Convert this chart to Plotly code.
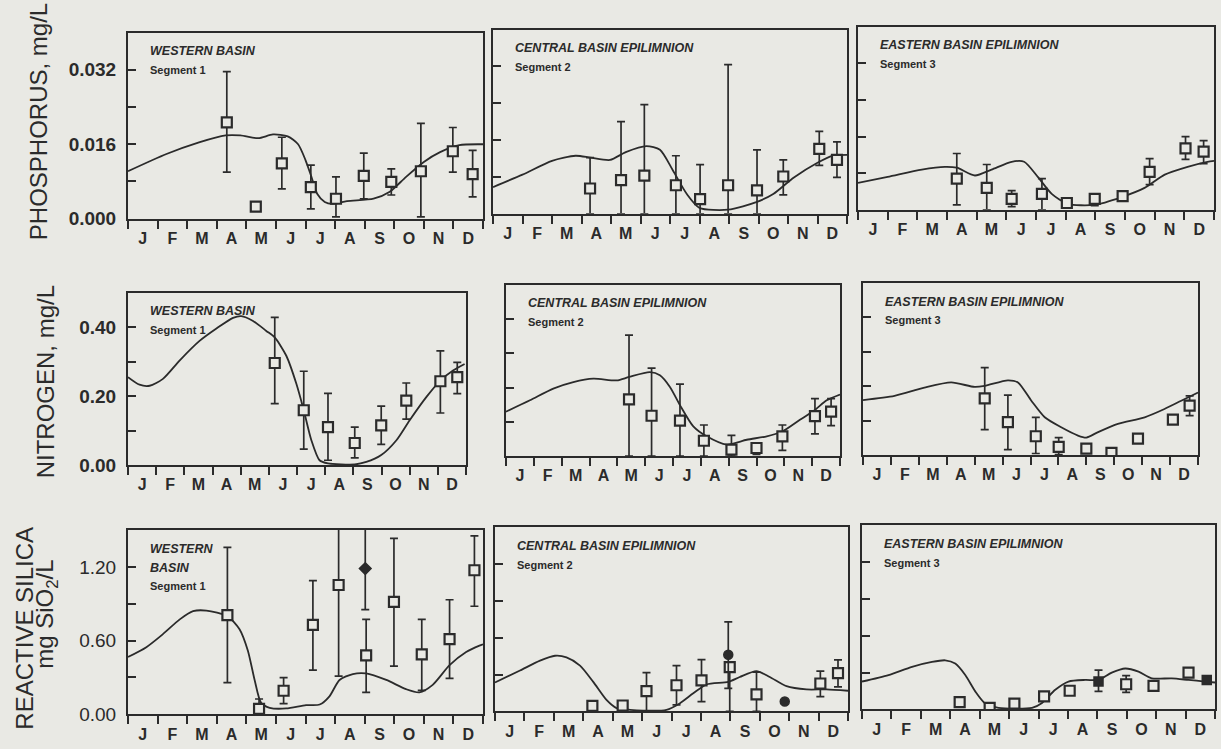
import plotly.graph_objects as go

W, H = 1221, 749
MONTHS = ["J", "F", "M", "A", "M", "J", "J", "A", "S", "O", "N", "D"]
MONTH_CENTERS = [i + 0.5 for i in range(12)]

# ---------------- PHOSPHORUS ----------------
# Western basin, segment 1
p_w_line_x = [0, 1.3, 2.4, 3.3, 3.8, 4.4, 4.9, 5.4, 5.75, 6.0, 6.2, 6.4, 6.65, 6.9, 7.4, 8.3, 8.85, 9.4, 10.0, 10.55, 11.2, 11.9, 12]
p_w_line_y = [0.0102, 0.0139, 0.0164, 0.0179, 0.0179, 0.0173, 0.0181, 0.0177, 0.0160, 0.0126, 0.0090, 0.0053, 0.0036, 0.0032, 0.0038, 0.0043, 0.0058, 0.0090, 0.0122, 0.0143, 0.0158, 0.0160, 0.0160]
p_w_obs_x = [3.34, 4.32, 5.2, 6.18, 7.03, 7.97, 8.9, 9.9, 10.98, 11.65]
p_w_obs_y = [0.0207, 0.0026, 0.0119, 0.0068, 0.0043, 0.0092, 0.0079, 0.0102, 0.0145, 0.0096]
p_w_obs_hi = [0.0316, 0.0026, 0.0175, 0.0115, 0.0090, 0.0141, 0.0107, 0.0205, 0.0196, 0.0147]
p_w_obs_lo = [0.0100, 0.0026, 0.0064, 0.0021, 0.0004, 0.0043, 0.0051, 0.0004, 0.0100, 0.0047]

# Central basin epilimnion, segment 2
p_c_line_x = [0, 1.0, 2.0, 2.8, 3.3, 3.97, 4.5, 5.2, 5.66, 6.1, 6.57, 7.0, 7.97, 8.95, 9.5, 10.2, 11.0, 11.5, 12]
p_c_line_y = [0.0058, 0.0085, 0.0115, 0.0126, 0.0122, 0.0117, 0.0134, 0.0147, 0.0139, 0.0094, 0.0043, 0.0013, 0.0009, 0.0026, 0.0043, 0.0079, 0.0111, 0.0126, 0.0128]
p_c_obs_x = [3.29, 4.34, 5.13, 6.2, 7.02, 7.97, 8.95, 9.84, 11.06, 11.66]
p_c_obs_y = [0.0055, 0.0073, 0.0083, 0.0062, 0.0032, 0.0062, 0.0051, 0.0081, 0.0141, 0.0117]
p_c_obs_hi = [0.0122, 0.0200, 0.0237, 0.0126, 0.0107, 0.0324, 0.0139, 0.0117, 0.0179, 0.0156]
p_c_obs_lo = [0.0, 0.0, 0.0, 0.0, 0.0, 0.0, 0.0, 0.0041, 0.0105, 0.0079]

# Eastern basin epilimnion, segment 3
p_e_line_x = [0, 1.0, 2.15, 2.93, 3.33, 3.94, 4.5, 5.18, 5.6, 6.06, 6.53, 7.07, 7.98, 8.89, 9.66, 10.34, 11.11, 11.78, 12]
p_e_line_y = [0.0059, 0.0072, 0.0088, 0.0094, 0.0092, 0.0075, 0.0088, 0.0105, 0.0105, 0.0072, 0.0035, 0.0013, 0.0011, 0.0028, 0.0048, 0.0077, 0.0094, 0.0105, 0.0107]
p_e_obs_x = [3.33, 4.34, 5.18, 6.2, 7.04, 7.98, 8.92, 9.83, 11.04, 11.65]
p_e_obs_y = [0.0068, 0.0048, 0.0024, 0.0035, 0.0015, 0.0024, 0.0030, 0.0083, 0.0134, 0.0127]
p_e_obs_hi = [0.0123, 0.0099, 0.0042, 0.0068, 0.0015, 0.0035, 0.0030, 0.0112, 0.0160, 0.0151]
p_e_obs_lo = [0.0011, 0.0, 0.0007, 0.0, 0.0015, 0.0009, 0.0030, 0.0055, 0.0110, 0.0101]

# ---------------- NITROGEN ----------------
n_w_line_x = [0, 0.41, 0.77, 1.24, 1.83, 2.54, 3.14, 3.73, 4.02, 4.44, 4.91, 5.21, 5.62, 5.98, 6.24, 6.51, 6.8, 7.1, 8.05, 8.46, 8.99, 9.53, 10.0, 10.59, 11.09, 11.54, 11.95]
n_w_line_y = [0.255, 0.233, 0.230, 0.250, 0.303, 0.360, 0.396, 0.427, 0.432, 0.418, 0.389, 0.370, 0.317, 0.235, 0.159, 0.072, 0.014, 0.005, 0.002, 0.009, 0.029, 0.072, 0.130, 0.197, 0.245, 0.274, 0.293]
n_w_obs_x = [5.21, 6.24, 7.1, 8.05, 8.99, 9.88, 11.09, 11.69]
n_w_obs_y = [0.296, 0.159, 0.110, 0.064, 0.115, 0.187, 0.243, 0.255]
n_w_obs_hi = [0.428, 0.272, 0.208, 0.110, 0.171, 0.238, 0.331, 0.298]
n_w_obs_lo = [0.178, 0.046, 0.014, 0.021, 0.060, 0.133, 0.151, 0.207]

n_c_line_x = [0, 0.86, 1.7, 2.42, 3.14, 3.98, 4.42, 5.17, 5.53, 5.89, 6.25, 6.73, 7.21, 7.93, 8.65, 9.37, 9.93, 10.56, 11.1, 11.52, 12]
n_c_line_y = [0.130, 0.163, 0.197, 0.216, 0.226, 0.221, 0.231, 0.245, 0.236, 0.202, 0.149, 0.087, 0.058, 0.034, 0.048, 0.058, 0.072, 0.106, 0.135, 0.163, 0.180]
n_c_obs_x = [4.42, 5.23, 6.25, 7.11, 8.1, 9.0, 9.93, 11.1, 11.68]
n_c_obs_y = [0.166, 0.118, 0.104, 0.045, 0.019, 0.024, 0.058, 0.117, 0.130]
n_c_obs_hi = [0.353, 0.257, 0.210, 0.091, 0.061, 0.038, 0.091, 0.168, 0.168]
n_c_obs_lo = [0.0, 0.0, 0.0, 0.0, 0.0, 0.005, 0.017, 0.065, 0.089]

n_e_line_x = [0, 1.13, 2.2, 3.16, 4.0, 4.36, 5.19, 5.55, 6.03, 6.51, 7.1, 7.7, 8.0, 8.42, 9.13, 10.09, 10.8, 11.4, 12]
n_e_line_y = [0.160, 0.172, 0.196, 0.211, 0.198, 0.201, 0.217, 0.211, 0.158, 0.110, 0.081, 0.057, 0.051, 0.067, 0.091, 0.110, 0.134, 0.158, 0.182]
n_e_obs_x = [4.36, 5.19, 6.19, 7.01, 8.0, 8.9, 9.85, 11.1, 11.7]
n_e_obs_y = [0.165, 0.096, 0.055, 0.024, 0.019, 0.007, 0.048, 0.103, 0.144]
n_e_obs_hi = [0.254, 0.174, 0.110, 0.051, 0.019, 0.007, 0.048, 0.103, 0.172]
n_e_obs_lo = [0.074, 0.016, 0.005, 0.002, 0.019, 0.007, 0.048, 0.103, 0.115]

# ---------------- REACTIVE SILICA ----------------
s_w_line_x = [0, 0.62, 1.18, 1.75, 2.2, 2.65, 3.36, 3.77, 4.05, 4.28, 4.5, 4.79, 5.35, 6.02, 6.48, 6.81, 7.15, 7.6, 8.05, 8.73, 9.4, 9.85, 10.3, 10.87, 11.43, 11.88, 12]
s_w_line_y = [0.467, 0.547, 0.653, 0.773, 0.840, 0.845, 0.800, 0.693, 0.520, 0.280, 0.093, 0.053, 0.048, 0.075, 0.080, 0.147, 0.280, 0.328, 0.333, 0.280, 0.205, 0.179, 0.240, 0.400, 0.507, 0.560, 0.570]
s_w_obs_x = [3.36, 4.43, 5.26, 6.25, 7.12, 8.05, 8.99, 9.93, 10.87, 11.71]
s_w_obs_y = [0.808, 0.045, 0.192, 0.728, 1.053, 0.480, 0.915, 0.488, 0.613, 1.173]
s_w_obs_hi = [1.360, 0.125, 0.299, 1.088, 1.600, 0.773, 1.432, 0.773, 0.933, 1.453]
s_w_obs_lo = [0.259, 0.013, 0.088, 0.360, 0.312, 0.179, 0.392, 0.195, 0.293, 0.880]
s_w_fill_x = [8.02]
s_w_fill_y = [1.187]
s_w_fill_hi = [1.600]
s_w_fill_lo = [0.853]

s_c_line_x = [0, 0.85, 1.53, 2.04, 2.43, 2.89, 3.34, 3.79, 4.13, 4.59, 5.83, 6.29, 6.74, 7.19, 7.93, 8.32, 8.89, 9.34, 9.91, 10.59, 11.27, 12]
s_c_line_y = [0.235, 0.333, 0.413, 0.453, 0.440, 0.373, 0.240, 0.093, 0.027, 0.013, 0.013, 0.067, 0.147, 0.219, 0.240, 0.280, 0.328, 0.280, 0.205, 0.179, 0.179, 0.168]
s_c_obs_x = [3.31, 4.34, 5.15, 6.17, 7.02, 7.98, 8.89, 11.06, 11.66]
s_c_obs_y = [0.045, 0.048, 0.165, 0.213, 0.253, 0.360, 0.139, 0.227, 0.312]
s_c_obs_hi = [0.045, 0.048, 0.315, 0.373, 0.421, 0.360, 0.320, 0.328, 0.419]
s_c_obs_lo = [0.045, 0.048, 0.0, 0.053, 0.080, 0.0, 0.0, 0.120, 0.200]
s_c_fill_x = [7.93, 9.85]
s_c_fill_y = [0.461, 0.080]
s_c_fill_hi = [0.728, 0.080]
s_c_fill_lo = [0.187, 0.080]

s_e_line_x = [0, 0.9, 1.7, 2.38, 2.83, 3.17, 3.51, 3.85, 4.19, 4.64, 5.78, 6.12, 6.57, 7.02, 7.59, 8.04, 8.49, 8.95, 9.4, 9.85, 10.53, 11.1, 11.66, 12]
s_e_line_y = [0.227, 0.280, 0.347, 0.387, 0.400, 0.373, 0.280, 0.147, 0.048, 0.013, 0.013, 0.053, 0.160, 0.227, 0.240, 0.240, 0.299, 0.333, 0.307, 0.253, 0.253, 0.240, 0.227, 0.219]
s_e_obs_x = [3.32, 4.34, 5.18, 6.19, 7.06, 8.98, 9.91, 11.1]
s_e_obs_y = [0.059, 0.013, 0.048, 0.107, 0.152, 0.205, 0.192, 0.299]
s_e_obs_hi = [0.059, 0.013, 0.048, 0.107, 0.152, 0.275, 0.192, 0.299]
s_e_obs_lo = [0.059, 0.013, 0.048, 0.107, 0.152, 0.139, 0.192, 0.299]
s_e_fill_x = [8.04, 11.72]
s_e_fill_y = [0.227, 0.240]
s_e_fill_hi = [0.320, 0.240]
s_e_fill_lo = [0.147, 0.240]

# ---------------- axes / text ----------------
ROW_YRANGE = [[0, 0.040], [0, 0.50], [0, 1.50]]
ROW_TICKVALS = [[0, 0.008, 0.016, 0.024, 0.032], [0, 0.1, 0.2, 0.3, 0.4], [0, 0.3, 0.6, 0.9, 1.2]]
ROW_TICKTEXT = [["0.000", "", "0.016", "", "0.032"], ["0.00", "", "0.20", "", "0.40"], ["0.00", "", "0.60", "", "1.20"]]
ROW_TICKBOLD = ["bold", "bold", "normal"]

BASIN_TITLES = ["WESTERN BASIN", "CENTRAL BASIN EPILIMNION", "EASTERN BASIN EPILIMNION"]
SEGMENTS = ["Segment 1", "Segment 2", "Segment 3"]

INK = "#2b2b2b"
PAPER = "#e9e9e4"
FONT = "Liberation Sans, Arial, sans-serif"

# panel boxes in pixels: (left, right, top, bottom)
BOXES = [
    [(128, 483, 33, 222), (493, 847, 30, 217), (858, 1214, 27, 213)],
    [(128, 466, 297, 472), (506, 840, 289, 463), (863, 1198, 287, 462)],
    [(128, 483, 538, 725), (495, 848, 535, 722), (862, 1215, 533, 720)],
]

PANELS = [
    [(p_w_line_x, p_w_line_y, p_w_obs_x, p_w_obs_y, p_w_obs_hi, p_w_obs_lo, None),
     (p_c_line_x, p_c_line_y, p_c_obs_x, p_c_obs_y, p_c_obs_hi, p_c_obs_lo, None),
     (p_e_line_x, p_e_line_y, p_e_obs_x, p_e_obs_y, p_e_obs_hi, p_e_obs_lo, None)],
    [(n_w_line_x, n_w_line_y, n_w_obs_x, n_w_obs_y, n_w_obs_hi, n_w_obs_lo, None),
     (n_c_line_x, n_c_line_y, n_c_obs_x, n_c_obs_y, n_c_obs_hi, n_c_obs_lo, None),
     (n_e_line_x, n_e_line_y, n_e_obs_x, n_e_obs_y, n_e_obs_hi, n_e_obs_lo, None)],
    [(s_w_line_x, s_w_line_y, s_w_obs_x, s_w_obs_y, s_w_obs_hi, s_w_obs_lo,
      (s_w_fill_x, s_w_fill_y, s_w_fill_hi, s_w_fill_lo, "diamond")),
     (s_c_line_x, s_c_line_y, s_c_obs_x, s_c_obs_y, s_c_obs_hi, s_c_obs_lo,
      (s_c_fill_x, s_c_fill_y, s_c_fill_hi, s_c_fill_lo, "circle")),
     (s_e_line_x, s_e_line_y, s_e_obs_x, s_e_obs_y, s_e_obs_hi, s_e_obs_lo,
      (s_e_fill_x, s_e_fill_y, s_e_fill_hi, s_e_fill_lo, "square"))],
]

fig = go.Figure()
layout = {}
annotations = []


def px_x(p):
    return p / W


def px_y(p):
    return 1 - p / H


def errbar(y, hi, lo):
    return dict(type="data", symmetric=False,
                array=[h - v for h, v in zip(hi, y)],
                arrayminus=[v - l for v, l in zip(y, lo)],
                color=INK, thickness=1.7, width=4)


idx = 0
for r in range(3):
    for c in range(3):
        idx += 1
        xa = "x" if idx == 1 else f"x{idx}"
        ya = "y" if idx == 1 else f"y{idx}"
        L, R, T, B = BOXES[r][c]
        lx, ly, ox, oy, ohi, olo, filled = PANELS[r][c]

        fig.add_trace(go.Scatter(x=lx, y=ly, mode="lines", xaxis=xa, yaxis=ya,
                                 line=dict(color=INK, width=1.8, shape="spline", smoothing=0.7),
                                 showlegend=False, hoverinfo="skip"))
        fig.add_trace(go.Scatter(x=ox, y=oy, mode="markers", xaxis=xa, yaxis=ya,
                                 marker=dict(symbol="square", size=10, color=PAPER,
                                             line=dict(color=INK, width=2.2)),
                                 error_y=errbar(oy, ohi, olo),
                                 showlegend=False, hoverinfo="skip"))
        if filled:
            fx, fy, fhi, flo, sym = filled
            fig.add_trace(go.Scatter(x=fx, y=fy, mode="markers", xaxis=xa, yaxis=ya,
                                     marker=dict(symbol=sym, size=9, color=INK,
                                                 line=dict(color=INK, width=1.5)),
                                     error_y=errbar(fy, fhi, flo),
                                     showlegend=False, hoverinfo="skip"))

        key = "" if idx == 1 else str(idx)
        layout["xaxis" + key] = dict(
            domain=[px_x(L), px_x(R)], anchor=ya, range=[0, 12],
            tickmode="array", tickvals=MONTH_CENTERS, ticktext=MONTHS, ticks="",
            ticklabelstandoff=4,
            tickfont=dict(family=FONT, size=16, color=INK, weight="bold"),
            minor=dict(tick0=0, dtick=1, ticks="outside", ticklen=8, tickwidth=2, tickcolor=INK),
            showline=True, linecolor=INK, linewidth=2, mirror=True,
            showgrid=False, zeroline=False, fixedrange=True)
        layout["yaxis" + key] = dict(
            domain=[px_y(B), px_y(T)], anchor=xa, range=ROW_YRANGE[r],
            tickmode="array", tickvals=ROW_TICKVALS[r],
            ticktext=ROW_TICKTEXT[r] if c == 0 else [" "] * 5,
            ticks="inside", ticklen=8, tickwidth=2, tickcolor=INK,
            ticklabelstandoff=6,
            tickfont=dict(family=FONT, size=19, color=INK, weight=ROW_TICKBOLD[r]),
            showline=True, linecolor=INK, linewidth=2, mirror=True,
            showgrid=False, zeroline=False, fixedrange=True)

        # panel labels
        if r == 2 and c == 0:
            lines = [("WESTERN", True), ("BASIN", True), (SEGMENTS[c], False)]
        else:
            lines = [(BASIN_TITLES[c], True), (SEGMENTS[c], False)]
        for k, (txt, bold_it) in enumerate(lines):
            annotations.append(dict(
                xref="paper", yref="paper", x=px_x(L + 20), y=px_y(T + 19 + 19 * k),
                text=txt, showarrow=False, xanchor="left", yanchor="middle",
                font=dict(family=FONT, size=12.5 if bold_it else 11, color=INK,
                          weight="bold", style="italic" if bold_it else "normal")))

# y titles
YTITLES = [
    ("PHOSPHORUS, mg/L", 38, 124),
    ("NITROGEN, mg/L", 45, 388),
    ("REACTIVE SILICA", 25, 638),
    ("mg SiO<sub>2</sub>/L", 47, 624),
]
for txt, xp, yp in YTITLES:
    annotations.append(dict(xref="paper", yref="paper", x=px_x(xp), y=px_y(yp),
                            text=txt, showarrow=False, textangle=-90,
                            xanchor="center", yanchor="middle",
                            font=dict(family=FONT, size=24, color=INK)))

fig.update_layout(**layout)
fig.update_layout(
    width=W, height=H, margin=dict(l=0, r=0, t=0, b=0),
    paper_bgcolor=PAPER, plot_bgcolor=PAPER,
    annotations=annotations, showlegend=False,
    font=dict(family=FONT, color=INK),
)

fig.write_html("out.html", config={"displayModeBar": False},
               post_script="document.body.style.margin='0';document.body.style.background='%s';" % PAPER)
